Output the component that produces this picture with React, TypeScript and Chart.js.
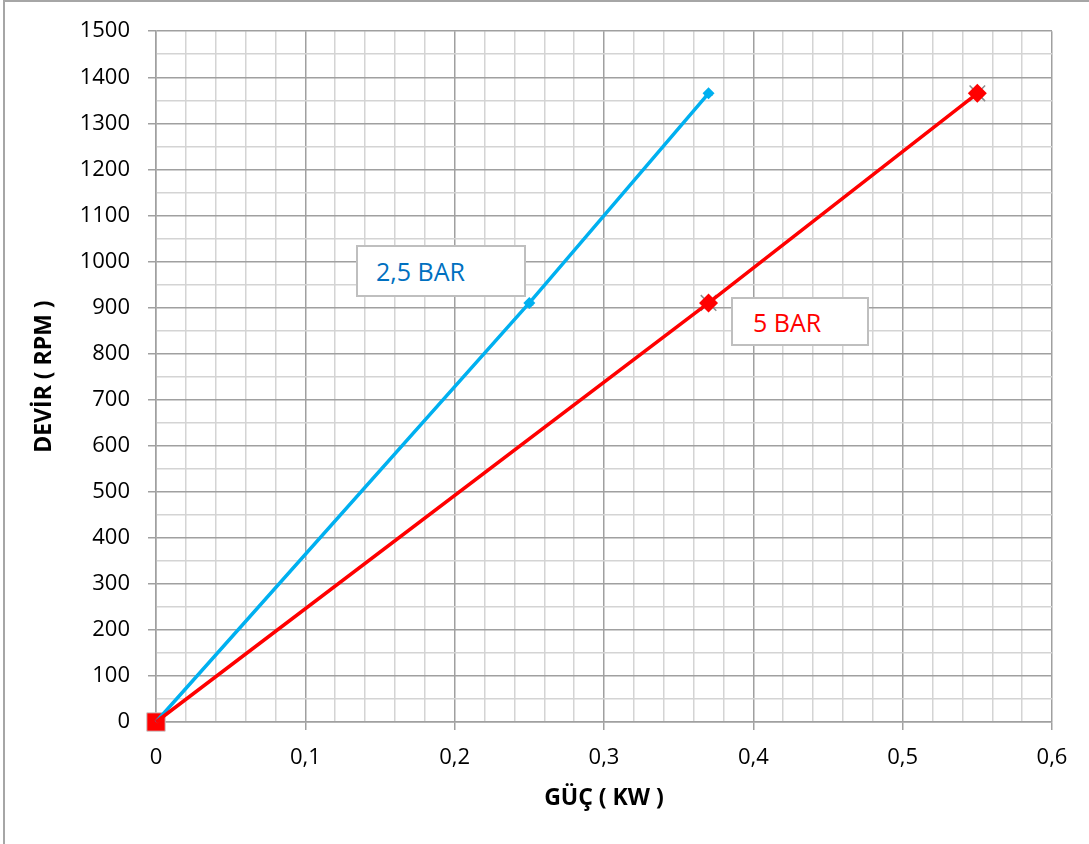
import React, { useEffect, useRef } from "react";
import { Chart, registerables } from "chart.js";

Chart.register(...registerables);

// 2,5 BAR series
const gucLow = [0, 0.25, 0.37];
const devirLow = [0, 910, 1365];
// 5 BAR series
const gucHigh = [0, 0.37, 0.55];
const devirHigh = [0, 910, 1365];

const xTitle = "GÜÇ ( KW )";
const yTitle = "DEVİR ( RPM )";
const labelLow = "2,5 BAR";
const labelHigh = "5 BAR";

const X_MIN = 0, X_MAX = 0.6, X_STEP = 0.02;
const Y_MIN = 0, Y_MAX = 1500, Y_STEP = 50;

const FONT = "'Open Sans', 'Noto Sans', sans-serif";
const MAJOR = "#a0a0a0";
const MINOR = "#d4d4d4";

function isMajorX(v: number) {
  return Math.round(v * 100) % 10 === 0;
}
function isMajorY(v: number) {
  return Math.round(v) % 100 === 0;
}

export default function App() {
  const ref = useRef<HTMLCanvasElement | null>(null);

  useEffect(() => {
    if (!ref.current) return;
    const pts = (xs: number[], ys: number[]) => xs.map((x, i) => ({ x, y: ys[i] }));
    const chart = new Chart(ref.current, {
      type: "scatter",
      data: {
        datasets: [
          {
            label: labelLow,
            data: pts(gucLow, devirLow),
            showLine: true,
            clip: false,
            borderColor: "#00B0F0",
            borderWidth: 3.5,
            pointStyle: "rectRot",
            pointRadius: [0, 6, 6],
            pointBackgroundColor: "#00B0F0",
            pointBorderColor: "#00B0F0",
            pointBorderWidth: 0,
            order: 2,
          },
          {
            label: labelHigh,
            data: pts(gucHigh, devirHigh),
            showLine: true,
            clip: false,
            borderColor: "#FF0000",
            borderWidth: 3.5,
            pointStyle: "rectRot",
            pointRadius: [0, 9.5, 9.5],
            pointBackgroundColor: "#FF0000",
            pointBorderColor: "#FF0000",
            pointBorderWidth: 0,
            order: 1,
          },
          {
            label: "tri",
            data: pts(gucLow, devirLow).slice(1),
            showLine: false,
            clip: false,
            pointStyle: "triangle",
            pointRadius: 5,
            pointBackgroundColor: "#8c8c8c",
            pointBorderColor: "#8c8c8c",
            pointBorderWidth: 0,
            order: 5,
          },
          {
            label: "cross",
            data: pts(gucHigh, devirHigh).slice(1),
            showLine: false,
            clip: false,
            pointStyle: "crossRot",
            pointRadius: 11,
            pointBorderColor: "#8c8c8c",
            pointBorderWidth: 1.5,
            order: 6,
          },
          {
            label: "origin",
            data: [{ x: gucHigh[0], y: devirHigh[0] }],
            showLine: false,
            clip: false,
            pointStyle: "rect",
            pointRadius: 13,
            pointBackgroundColor: "#FF0000",
            pointBorderColor: "#c8c8c8",
            pointBorderWidth: 1,
            order: 7,
          },
        ],
      },
      options: {
        animation: false,
        responsive: false,
        layout: { padding: { left: 0, top: 31, right: 37, bottom: 0 } },
        plugins: { legend: { display: false }, tooltip: { enabled: false } },
        scales: {
          x: {
            type: "linear",
            min: X_MIN,
            max: X_MAX,
            afterFit: (s: any) => { s.height = 844 - 722; },
            ticks: {
              stepSize: X_STEP,
              autoSkip: false,
              maxRotation: 0,
              padding: 15,
              color: "#000",
              font: { family: FONT, size: 22 },
              callback: (v: any) => {
                const n = Number(v);
                if (!isMajorX(n)) return "";
                return (Math.round(n * 10) / 10).toString().replace(".", ",");
              },
            },
            grid: {
              color: (c: any) => (c.tick && isMajorX(c.tick.value) ? MAJOR : MINOR),
              tickColor: (c: any) => (c.tick && isMajorX(c.tick.value) ? MAJOR : "rgba(0,0,0,0)"),
              lineWidth: 1.5,
              tickLength: 8,
            },
            border: { color: MAJOR, width: 1.5 },
            title: {
              display: true,
              text: xTitle,
              color: "#000",
              font: { family: FONT, size: 23, weight: "bold" },
              padding: { top: 0, bottom: 32 },
            },
          },
          y: {
            type: "linear",
            min: Y_MIN,
            max: Y_MAX,
            afterFit: (s: any) => { s.width = 156; },
            ticks: {
              stepSize: Y_STEP,
              autoSkip: false,
              padding: 18,
              color: "#000",
              font: { family: FONT, size: 22 },
              callback: (v: any) => {
                const n = Number(v);
                return isMajorY(n) ? String(Math.round(n)) : "";
              },
            },
            grid: {
              color: (c: any) => (c.tick && isMajorY(c.tick.value) ? MAJOR : MINOR),
              tickColor: (c: any) => (c.tick && isMajorY(c.tick.value) ? MAJOR : "rgba(0,0,0,0)"),
              lineWidth: 1.5,
              tickLength: 8,
            },
            border: { color: MAJOR, width: 1.5 },
            title: {
              display: true,
              text: yTitle,
              color: "#000",
              font: { family: FONT, size: 23, weight: "bold" },
              padding: { top: 31, bottom: 0 },
            },
          },
        },
      },
    } as any);
    return () => chart.destroy();
  }, []);

  const boxBase: React.CSSProperties = {
    position: "absolute",
    background: "#fff",
    border: "2px solid #bfbfbf",
    boxSizing: "border-box",
    fontFamily: FONT,
    fontSize: 25,
    display: "flex",
    alignItems: "center",
  };

  return (
    <div style={{ position: "fixed", left: 0, top: 0, width: 1089, height: 844, background: "#fff", overflow: "hidden" }}>
      <div style={{ position: "absolute", left: 3, top: 0, width: 1200, height: 1000, border: "2px solid #a6a6a6", boxSizing: "border-box" }} />
      <canvas ref={ref} width={1089} height={844} style={{ position: "absolute", left: 0, top: 0, width: 1089, height: 844 }} />
      <div style={{ ...boxBase, left: 356, top: 245, width: 170, height: 52, color: "#0070C0", paddingLeft: 18 }}>{labelLow}</div>
      <div style={{ ...boxBase, left: 731, top: 297, width: 138, height: 49, color: "#FF0000", paddingLeft: 20 }}>{labelHigh}</div>
    </div>
  );
}
